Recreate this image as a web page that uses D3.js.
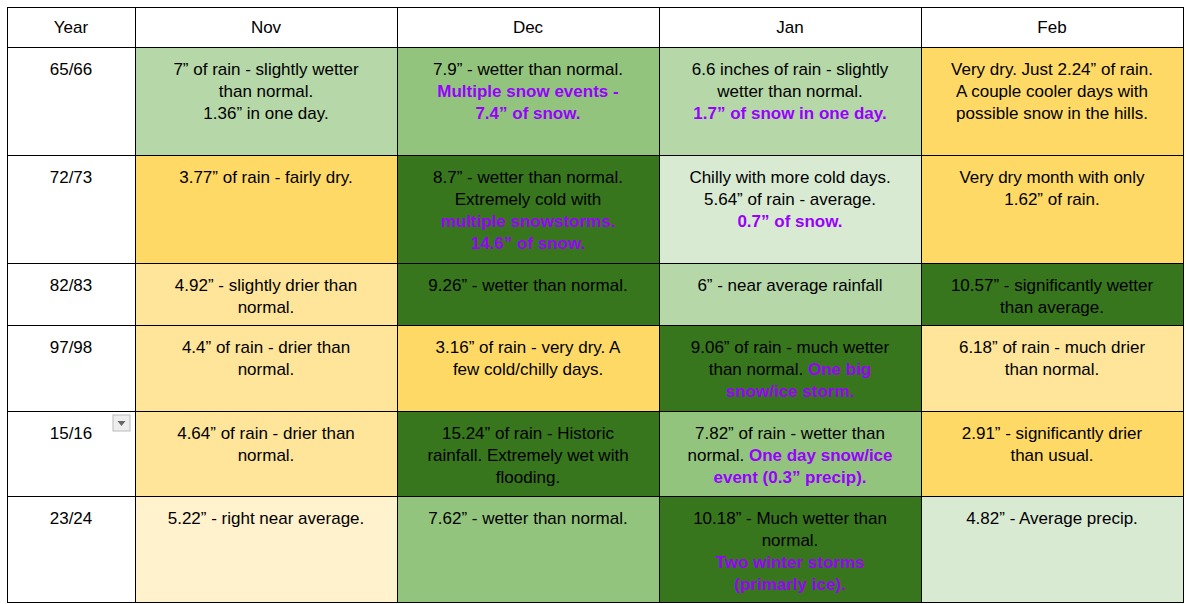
<!DOCTYPE html>
<meta charset="utf-8">
<script src="https://d3js.org/d3.v7.min.js"></script>
<style>
  body { margin: 0; background: #fff; }
  text { font-family: "Liberation Sans", Arial, sans-serif; font-size: 17px; }
</style>
<body>
<svg id="chart" width="1186" height="604"></svg>
<script>
// table data
var years = ["65/66", "72/73", "82/83", "97/98", "15/16", "23/24"];
var months = ["Nov", "Dec", "Jan", "Feb"];

// fill keys: lg light green, mg medium green, dg dark green, vg very light green,
// y yellow, ly light yellow, vy very light yellow
var fills = [
  ["lg", "mg", "lg", "y"],
  ["y", "dg", "vg", "y"],
  ["ly", "dg", "lg", "dg"],
  ["ly", "y", "dg", "ly"],
  ["ly", "dg", "mg", "y"],
  ["vy", "mg", "dg", "vg"]
];

// cell text, one string per line, "|" switches to purple bold
var notes = [
  [["7” of rain - slightly wetter", "than normal.", "1.36” in one day."],
   ["7.9” - wetter than normal.", "|Multiple snow events -", "|7.4” of snow."],
   ["6.6 inches of rain - slightly", "wetter than normal.", "|1.7” of snow in one day."],
   ["Very dry.  Just 2.24” of rain.", "A couple cooler days with", "possible snow in the hills."]],
  [["3.77” of rain - fairly dry."],
   ["8.7” - wetter than normal.", "Extremely cold with", "|multiple snowstorms.", "|14.6” of snow."],
   ["Chilly with more cold days.", "5.64” of rain - average.", "|0.7” of snow."],
   ["Very dry month with only", "1.62” of rain."]],
  [["4.92” - slightly drier than", "normal."],
   ["9.26” - wetter than normal."],
   ["6” - near average rainfall"],
   ["10.57” - significantly wetter", "than average."]],
  [["4.4” of rain - drier than", "normal."],
   ["3.16” of rain - very dry. A", "few cold/chilly days."],
   ["9.06” of rain - much wetter", "than normal.  |One big", "|snow/ice storm."],
   ["6.18” of rain - much drier", "than normal."]],
  [["4.64” of rain - drier than", "normal."],
   ["15.24” of rain - Historic", "rainfall.  Extremely wet with", "flooding."],
   ["7.82” of rain - wetter than", "normal.  |One day snow/ice", "|event (0.3” precip)."],
   ["2.91” - significantly drier", "than usual."]],
  [["5.22” - right near average."],
   ["7.62” - wetter than normal."],
   ["10.18” - Much wetter than", "normal.", "|Two winter storms", "|(primarly ice)."],
   ["4.82” - Average precip."]]
];

var colorOf = {
  lg: "#b6d7a8", mg: "#93c47d", dg: "#38761d", vg: "#d9ead3",
  y: "#ffd966", ly: "#ffe599", vy: "#fff2cc"
};

var colEdges = [7, 135, 397, 659, 921, 1183];
var rowEdges = [7, 47, 155, 263, 325, 411, 496, 602];

var svg = d3.select("#chart");

var x = d3.scaleOrdinal().domain(d3.range(6)).range(colEdges);
var y = d3.scaleOrdinal().domain(d3.range(8)).range(rowEdges);

// header
svg.selectAll(".hdr")
  .data(["Year"].concat(months))
  .enter().append("text")
  .attr("x", function (d, i) { return (x(i) + x(i + 1)) / 2; })
  .attr("y", 33)
  .attr("text-anchor", "middle")
  .attr("fill", "#000")
  .text(function (d) { return d; });

// year labels
svg.selectAll(".yr")
  .data(years)
  .enter().append("text")
  .attr("x", (x(0) + x(1)) / 2)
  .attr("y", function (d, i) { return y(i + 1) + 28; })
  .attr("text-anchor", "middle")
  .text(function (d) { return d; });

// cells
years.forEach(function (yr, r) {
  months.forEach(function (m, c) {
    var x0 = x(c + 1), x1 = x(c + 2), y0 = y(r + 1), y1 = y(r + 2);
    svg.append("rect")
      .attr("x", x0).attr("y", y0)
      .attr("width", x1 - x0).attr("height", y1 - y0)
      .attr("fill", colorOf[fills[r][c]]);
    notes[r][c].forEach(function (line, li) {
      var t = svg.append("text")
        .attr("x", (x0 + x1) / 2)
        .attr("y", y0 + 28 + li * 22)
        .attr("text-anchor", "middle");
      var parts = line.split("|");
      parts.forEach(function (p, pi) {
        if (!p) return;
        var s = t.append("tspan").text(p);
        if (pi > 0) s.attr("fill", "#9900ff").attr("font-weight", "bold");
        else s.attr("fill", "#000");
      });
    });
  });
});

// dropdown marker beside 15/16
svg.append("rect").attr("x", 113).attr("y", 415).attr("width", 17).attr("height", 16)
  .attr("fill", "#eee").attr("stroke", "#bbb");
svg.append("path").attr("d", "M117.5,421 L125.5,421 L121.5,426 Z").attr("fill", "#666");

// grid lines
svg.selectAll(".vl").data(colEdges).enter().append("line")
  .attr("x1", function (d) { return d + 0.5; }).attr("x2", function (d) { return d + 0.5; })
  .attr("y1", rowEdges[0]).attr("y2", rowEdges[rowEdges.length - 1])
  .attr("stroke", "#000").attr("stroke-width", 1);
svg.selectAll(".hl").data(rowEdges).enter().append("line")
  .attr("y1", function (d) { return d + 0.5; }).attr("y2", function (d) { return d + 0.5; })
  .attr("x1", colEdges[0]).attr("x2", colEdges[colEdges.length - 1] + 1)
  .attr("stroke", "#000").attr("stroke-width", 1);
</script>
</body>
